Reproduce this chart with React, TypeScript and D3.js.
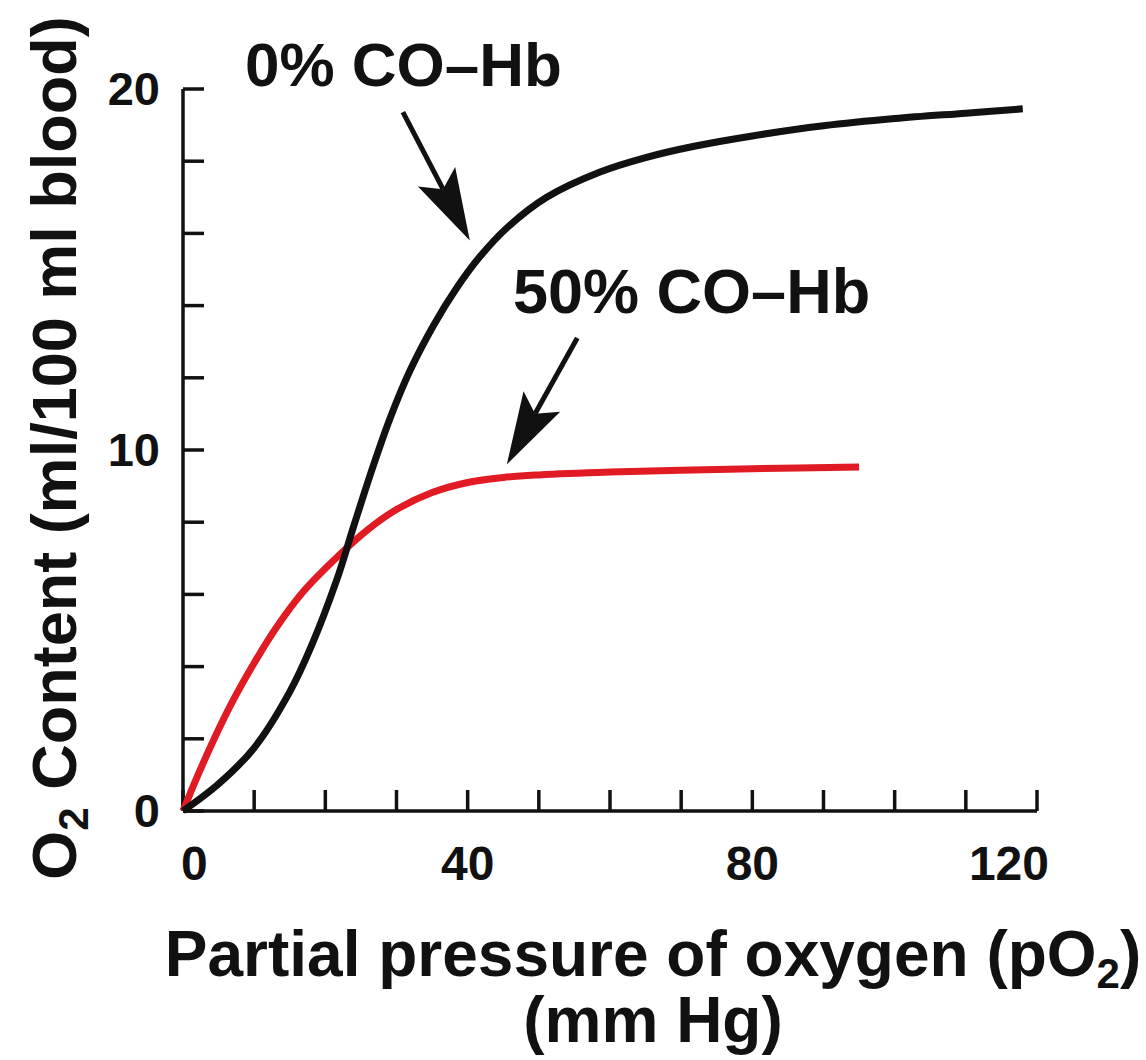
import React from "react";
import * as d3 from "d3";

const po2Normal = [0, 5, 10, 15, 18, 21.6, 24, 26.8, 29.1, 31.9, 35.2, 38.5, 41.7, 45.5, 51.1, 58.6, 65, 72, 80, 90, 100, 110, 118];
const o2Normal = [0, 0.75, 1.75, 3.3, 4.55, 6.4, 7.9, 9.6, 10.88, 12.2, 13.45, 14.5, 15.35, 16.15, 17.0, 17.7, 18.1, 18.42, 18.7, 18.98, 19.18, 19.33, 19.45];

const po2Co = [0, 2, 4.5, 7, 10, 13, 17, 22, 26, 30, 35, 40, 45, 50, 60, 70, 80, 95];
const o2Co = [0, 0.95, 2.05, 3.05, 4.1, 5.05, 6.1, 7.1, 7.8, 8.35, 8.82, 9.1, 9.24, 9.31, 9.39, 9.44, 9.48, 9.53];

const xTickValues = [0, 10, 20, 30, 40, 50, 60, 70, 80, 90, 100, 110, 120];
const xTickLabels = ["0", "40", "80", "120"];
const yTickValues = [0, 2, 4, 6, 8, 10, 12, 14, 16, 18, 20];
const yTickLabels = ["0", "10", "20"];

const seriesNames = ["0% CO–Hb", "50% CO–Hb"];
// annotation arrows: [labelX, labelY, tipX, tipY] in data units
const arrowNormal = [30.9, 19.36, 40.3, 15.8];
const arrowCo = [55.4, 13.1, 45.5, 9.6];

const W = 1146;
const H = 1060;
const FONT = "'Liberation Sans', Arial, Helvetica, sans-serif";

function Arrow({ x1, y1, x2, y2 }: { x1: number; y1: number; x2: number; y2: number }) {
  const dx = x2 - x1;
  const dy = y2 - y1;
  const len = Math.hypot(dx, dy);
  const ux = dx / len;
  const uy = dy / len;
  const px = -uy;
  const py = ux;
  const headLen = 72;
  const headHalf = 21;
  const notch = 14;
  const bx = x2 - ux * headLen;
  const by = y2 - uy * headLen;
  const nx = x2 - ux * (headLen - notch);
  const ny = y2 - uy * (headLen - notch);
  const head = `M${x2},${y2} L${bx + px * headHalf},${by + py * headHalf} L${nx},${ny} L${bx - px * headHalf},${by - py * headHalf} Z`;
  return (
    <g>
      <line x1={x1} y1={y1} x2={nx} y2={ny} stroke="#111" strokeWidth={5} />
      <path d={head} fill="#111" />
    </g>
  );
}

export default function App() {
  const x = d3.scaleLinear().domain([0, 120]).range([183, 1037]);
  const y = d3.scaleLinear().domain([0, 20]).range([811, 89]);

  const line = d3
    .line<[number, number]>()
    .x((d) => x(d[0]))
    .y((d) => y(d[1]))
    .curve(d3.curveCatmullRom.alpha(0.5));

  const normalPts = po2Normal.map((p, i) => [p, o2Normal[i]] as [number, number]);
  const coPts = po2Co.map((p, i) => [p, o2Co[i]] as [number, number]);

  const x0 = x(0);
  const y0 = y(0);

  return (
    <svg width={W} height={H} style={{ display: "block", position: "absolute", left: 0, top: 0, background: "#fff" }} fontFamily={FONT}>
      <rect x={0} y={0} width={W} height={H} fill="#fff" />
      {/* axes */}
      <line x1={x0} y1={y(20)} x2={x0} y2={y0} stroke="#111" strokeWidth={3.5} />
      <line x1={x0} y1={y0} x2={x(120)} y2={y0} stroke="#111" strokeWidth={3.5} />
      {yTickValues.map((v) => (
        <line key={"yt" + v} x1={x0} x2={x0 + 21} y1={y(v)} y2={y(v)} stroke="#111" strokeWidth={3.5} />
      ))}
      {xTickValues.map((v) => (
        <line key={"xt" + v} x1={x(v)} x2={x(v)} y1={y0} y2={y0 - 21} stroke="#111" strokeWidth={3.5} />
      ))}
      {yTickLabels.map((t) => (
        <text key={"yl" + t} x={160} y={y(+t) + 16} textAnchor="end" fontSize={47} fontWeight="bold" fill="#111">
          {t}
        </text>
      ))}
      {xTickLabels.map((t, i) => (
        <text
          key={"xl" + t}
          x={i === 0 ? x(+t) - 2 : i === xTickLabels.length - 1 ? x(+t) + 12 : x(+t)}
          y={880}
          textAnchor={i === 0 ? "start" : i === xTickLabels.length - 1 ? "end" : "middle"}
          fontSize={48}
          fontWeight="bold"
          fill="#111"
        >
          {t}
        </text>
      ))}

      {/* curves */}
      <path d={line(coPts) || ""} fill="none" stroke="#e01b24" strokeWidth={7} strokeLinecap="butt" />
      <path d={line(normalPts) || ""} fill="none" stroke="#111" strokeWidth={7} strokeLinecap="butt" />

      {/* annotations */}
      <Arrow x1={x(arrowNormal[0])} y1={y(arrowNormal[1])} x2={x(arrowNormal[2])} y2={y(arrowNormal[3])} />
      <Arrow x1={x(arrowCo[0])} y1={y(arrowCo[1])} x2={x(arrowCo[2])} y2={y(arrowCo[3])} />
      <text x={245} y={86} fontSize={62} fontWeight="bold" fill="#111">
        {seriesNames[0]}
      </text>
      <text x={513} y={313} fontSize={63} fontWeight="bold" fill="#111">
        {seriesNames[1]}
      </text>

      {/* axis titles */}
      <text transform="translate(76,448) rotate(-90)" textAnchor="middle" fontSize={63} fontWeight="bold" fill="#111">
        O<tspan fontSize={42} dy={12}>2</tspan>
        <tspan dy={-12}> Content (ml/100 ml blood)</tspan>
      </text>
      <text x={653} y={976} textAnchor="middle" fontSize={64} fontWeight="bold" fill="#111">
        Partial pressure of oxygen (pO<tspan fontSize={42} dy={12}>2</tspan>
        <tspan dy={-12}>)</tspan>
      </text>
      <text x={653} y={1042} textAnchor="middle" fontSize={64} fontWeight="bold" fill="#111">
        (mm Hg)
      </text>
    </svg>
  );
}
